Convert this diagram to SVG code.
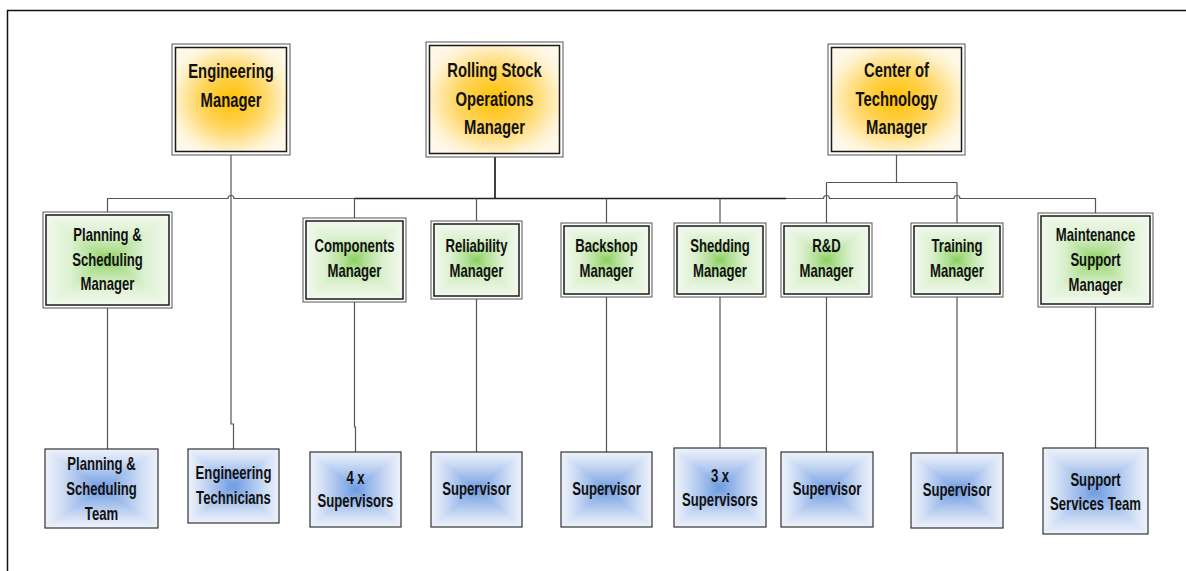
<svg xmlns="http://www.w3.org/2000/svg" xmlns:xlink="http://www.w3.org/1999/xlink" width="1186" height="571" viewBox="0 0 1186 571">
<style>
.t{font-family:"Liberation Sans",Arial,sans-serif;font-weight:bold;text-anchor:middle;fill:#111}
.t18{font-size:19.5px}
.t16{font-size:17.5px}
.outer{fill:#fff;stroke:#555;stroke-width:1}
.inner{fill:none;stroke:#1a1a1a;stroke-width:1.5}
.single{fill:none;stroke:#333;stroke-width:1.2}
.ln{fill:none;stroke:#555;stroke-width:1.2}
.lnb{fill:none;stroke:#222;stroke-width:1.7}
.frame{fill:none;stroke:#111;stroke-width:1.5}
</style>
<defs>
<radialGradient id="gO" cx="0.5" cy="0.5" r="0.6">
<stop offset="0" stop-color="#FFC000"/>
<stop offset="0.45" stop-color="#FFD45A"/>
<stop offset="0.85" stop-color="#FFF3D2"/>
<stop offset="1" stop-color="#FFF8E8"/>
</radialGradient>
<linearGradient id="gGT" x1="0" y1="0" x2="0" y2="1"><stop offset="0" stop-color="#F2F9EE"/><stop offset="0.4" stop-color="#DDF1D1"/><stop offset="0.8" stop-color="#AEDE90"/><stop offset="1" stop-color="#8ACF5E"/></linearGradient>
<linearGradient id="gGB" x1="0" y1="1" x2="0" y2="0"><stop offset="0" stop-color="#F2F9EE"/><stop offset="0.4" stop-color="#DDF1D1"/><stop offset="0.8" stop-color="#AEDE90"/><stop offset="1" stop-color="#8ACF5E"/></linearGradient>
<linearGradient id="gGL" x1="0" y1="0" x2="1" y2="0"><stop offset="0" stop-color="#F2F9EE"/><stop offset="0.4" stop-color="#DDF1D1"/><stop offset="0.8" stop-color="#AEDE90"/><stop offset="1" stop-color="#8ACF5E"/></linearGradient>
<linearGradient id="gGR" x1="1" y1="0" x2="0" y2="0"><stop offset="0" stop-color="#F2F9EE"/><stop offset="0.4" stop-color="#DDF1D1"/><stop offset="0.8" stop-color="#AEDE90"/><stop offset="1" stop-color="#8ACF5E"/></linearGradient>
<linearGradient id="gBT" x1="0" y1="0" x2="0" y2="1"><stop offset="0" stop-color="#EEF3FB"/><stop offset="0.3" stop-color="#CFDDF4"/><stop offset="0.7" stop-color="#98B8EA"/><stop offset="1" stop-color="#6F9BE0"/></linearGradient>
<linearGradient id="gBB" x1="0" y1="1" x2="0" y2="0"><stop offset="0" stop-color="#EEF3FB"/><stop offset="0.3" stop-color="#CFDDF4"/><stop offset="0.7" stop-color="#98B8EA"/><stop offset="1" stop-color="#6F9BE0"/></linearGradient>
<linearGradient id="gBL" x1="0" y1="0" x2="1" y2="0"><stop offset="0" stop-color="#EEF3FB"/><stop offset="0.3" stop-color="#CFDDF4"/><stop offset="0.7" stop-color="#98B8EA"/><stop offset="1" stop-color="#6F9BE0"/></linearGradient>
<linearGradient id="gBR" x1="1" y1="0" x2="0" y2="0"><stop offset="0" stop-color="#EEF3FB"/><stop offset="0.3" stop-color="#CFDDF4"/><stop offset="0.7" stop-color="#98B8EA"/><stop offset="1" stop-color="#6F9BE0"/></linearGradient>
<symbol id="fillG" viewBox="0 0 100 100" preserveAspectRatio="none">
<polygon points="0,0 100,0 50,50" fill="url(#gGT)" shape-rendering="crispEdges"/>
<polygon points="0,100 100,100 50,50" fill="url(#gGB)" shape-rendering="crispEdges"/>
<polygon points="0,0 0,100 50,50" fill="url(#gGL)" shape-rendering="crispEdges"/>
<polygon points="100,0 100,100 50,50" fill="url(#gGR)" shape-rendering="crispEdges"/>
</symbol>
<symbol id="fillB" viewBox="0 0 100 100" preserveAspectRatio="none">
<polygon points="0,0 100,0 50,50" fill="url(#gBT)" shape-rendering="crispEdges"/>
<polygon points="0,100 100,100 50,50" fill="url(#gBB)" shape-rendering="crispEdges"/>
<polygon points="0,0 0,100 50,50" fill="url(#gBL)" shape-rendering="crispEdges"/>
<polygon points="100,0 100,100 50,50" fill="url(#gBR)" shape-rendering="crispEdges"/>
</symbol>
</defs>
<rect width="1186" height="571" fill="#fff"/>
<path class="frame" d="M7.5,571 V10.5 H1186"/>

<g id="connectors">
<path class="ln" d="M107.5,212 V198.5 H228 a3,3 0 0 1 6,0 H823.5 a3,3 0 0 1 6,0 H954 a3,3 0 0 1 6,0 H1095.5 V213"/>
<path class="lnb" d="M495,157 V198.5 M354.5,198.5 H786"/>
<path class="ln" d="M354.5,198.5 V218 M476.5,198.5 V221 M606.5,198.5 V223 M720,198.5 V223"/>
<path class="ln" d="M231,155 V424 H233.5 V449"/>
<path class="ln" d="M896.5,155 V182.5 M826.5,182.5 H957 M826.5,182.5 V223 M957,182.5 V223"/>
<path class="ln" d="M107.5,308 V449 M354.5,302 V427 H355.5 V452 M476.5,299 V452 M606.5,297 V452 M720,297 V448 M826.5,297 V452 M957,297 V453 M1095.5,307 V448"/>
</g>

<g id="engineering-manager">
<rect class="outer" x="172" y="44" width="118" height="111"/>
<rect x="175.5" y="47.5" width="111" height="104" fill="url(#gO)"/>
<rect class="inner" x="175.5" y="47.5" width="111" height="104"/>
<text class="t t18" x="0" y="78.5" transform="matrix(.76 0 0 1 231 0)">Engineering</text>
<text class="t t18" x="0" y="107" transform="matrix(.76 0 0 1 231 0)">Manager</text>
</g>
<g id="rolling-stock-operations-manager">
<rect class="outer" x="426" y="42" width="137" height="115"/>
<rect x="429.5" y="45.5" width="130" height="108" fill="url(#gO)"/>
<rect class="inner" x="429.5" y="45.5" width="130" height="108"/>
<text class="t t18" x="0" y="77.5" transform="matrix(.76 0 0 1 494.5 0)">Rolling Stock</text>
<text class="t t18" x="0" y="106" transform="matrix(.76 0 0 1 494.5 0)">Operations</text>
<text class="t t18" x="0" y="134.5" transform="matrix(.76 0 0 1 494.5 0)">Manager</text>
</g>
<g id="center-of-technology-manager">
<rect class="outer" x="828" y="44" width="137" height="111"/>
<rect x="831.5" y="47.5" width="130" height="104" fill="url(#gO)"/>
<rect class="inner" x="831.5" y="47.5" width="130" height="104"/>
<text class="t t18" x="0" y="77.5" transform="matrix(.76 0 0 1 896.5 0)">Center of</text>
<text class="t t18" x="0" y="106" transform="matrix(.76 0 0 1 896.5 0)">Technology</text>
<text class="t t18" x="0" y="134.5" transform="matrix(.76 0 0 1 896.5 0)">Manager</text>
</g>

<g id="planning-scheduling-manager">
<rect class="outer" x="43" y="212" width="129" height="96"/>
<use xlink:href="#fillG" x="46" y="215" width="123" height="90"/>
<rect class="inner" x="46" y="215" width="123" height="90"/>
<text class="t t16" x="0" y="241.5" transform="matrix(.75 0 0 1 107.5 0)">Planning &amp;</text>
<text class="t t16" x="0" y="266" transform="matrix(.75 0 0 1 107.5 0)">Scheduling</text>
<text class="t t16" x="0" y="290.5" transform="matrix(.75 0 0 1 107.5 0)">Manager</text>
</g>
<g id="components-manager">
<rect class="outer" x="303" y="218" width="103" height="84"/>
<use xlink:href="#fillG" x="306" y="221" width="97" height="78"/>
<rect class="inner" x="306" y="221" width="97" height="78"/>
<text class="t t16" x="0" y="252.5" transform="matrix(.75 0 0 1 354.5 0)">Components</text>
<text class="t t16" x="0" y="277.5" transform="matrix(.75 0 0 1 354.5 0)">Manager</text>
</g>
<g id="reliability-manager">
<rect class="outer" x="431" y="221" width="91" height="78"/>
<use xlink:href="#fillG" x="434" y="224" width="85" height="72"/>
<rect class="inner" x="434" y="224" width="85" height="72"/>
<text class="t t16" x="0" y="252.5" transform="matrix(.75 0 0 1 476.5 0)">Reliability</text>
<text class="t t16" x="0" y="277.5" transform="matrix(.75 0 0 1 476.5 0)">Manager</text>
</g>
<g id="backshop-manager">
<rect class="outer" x="561" y="223" width="91" height="74"/>
<use xlink:href="#fillG" x="564" y="226" width="85" height="68"/>
<rect class="inner" x="564" y="226" width="85" height="68"/>
<text class="t t16" x="0" y="252.5" transform="matrix(.75 0 0 1 606.5 0)">Backshop</text>
<text class="t t16" x="0" y="277.5" transform="matrix(.75 0 0 1 606.5 0)">Manager</text>
</g>
<g id="shedding-manager">
<rect class="outer" x="674" y="223" width="92" height="74"/>
<use xlink:href="#fillG" x="677" y="226" width="86" height="68"/>
<rect class="inner" x="677" y="226" width="86" height="68"/>
<text class="t t16" x="0" y="252.5" transform="matrix(.75 0 0 1 720 0)">Shedding</text>
<text class="t t16" x="0" y="277.5" transform="matrix(.75 0 0 1 720 0)">Manager</text>
</g>
<g id="rd-manager">
<rect class="outer" x="781" y="223" width="91" height="74"/>
<use xlink:href="#fillG" x="784" y="226" width="85" height="68"/>
<rect class="inner" x="784" y="226" width="85" height="68"/>
<text class="t t16" x="0" y="252.5" transform="matrix(.75 0 0 1 826.5 0)">R&amp;D</text>
<text class="t t16" x="0" y="277.5" transform="matrix(.75 0 0 1 826.5 0)">Manager</text>
</g>
<g id="training-manager">
<rect class="outer" x="911" y="223" width="92" height="74"/>
<use xlink:href="#fillG" x="914" y="226" width="86" height="68"/>
<rect class="inner" x="914" y="226" width="86" height="68"/>
<text class="t t16" x="0" y="252.5" transform="matrix(.75 0 0 1 957 0)">Training</text>
<text class="t t16" x="0" y="277.5" transform="matrix(.75 0 0 1 957 0)">Manager</text>
</g>
<g id="maintenance-support-manager">
<rect class="outer" x="1038" y="213" width="115" height="94"/>
<use xlink:href="#fillG" x="1041" y="216" width="109" height="88"/>
<rect class="inner" x="1041" y="216" width="109" height="88"/>
<text class="t t16" x="0" y="241" transform="matrix(.75 0 0 1 1095.5 0)">Maintenance</text>
<text class="t t16" x="0" y="266" transform="matrix(.75 0 0 1 1095.5 0)">Support</text>
<text class="t t16" x="0" y="291" transform="matrix(.75 0 0 1 1095.5 0)">Manager</text>
</g>

<g id="planning-scheduling-team">
<use xlink:href="#fillB" x="45" y="449" width="113" height="79"/>
<rect class="single" x="45" y="449" width="113" height="79"/>
<text class="t t16" x="0" y="470" transform="matrix(.75 0 0 1 101.5 0)">Planning &amp;</text>
<text class="t t16" x="0" y="495" transform="matrix(.75 0 0 1 101.5 0)">Scheduling</text>
<text class="t t16" x="0" y="520" transform="matrix(.75 0 0 1 101.5 0)">Team</text>
</g>
<g id="engineering-technicians">
<use xlink:href="#fillB" x="188" y="449" width="91" height="74"/>
<rect class="single" x="188" y="449" width="91" height="74"/>
<text class="t t16" x="0" y="479" transform="matrix(.75 0 0 1 233.5 0)">Engineering</text>
<text class="t t16" x="0" y="504" transform="matrix(.75 0 0 1 233.5 0)">Technicians</text>
</g>
<g id="components-supervisors">
<use xlink:href="#fillB" x="310" y="452" width="91" height="75"/>
<rect class="single" x="310" y="452" width="91" height="75"/>
<text class="t t16" x="0" y="484" transform="matrix(.75 0 0 1 355.5 0)">4 x</text>
<text class="t t16" x="0" y="507.5" transform="matrix(.75 0 0 1 355.5 0)">Supervisors</text>
</g>
<g id="reliability-supervisor">
<use xlink:href="#fillB" x="431" y="452" width="91" height="75"/>
<rect class="single" x="431" y="452" width="91" height="75"/>
<text class="t t16" x="0" y="495" transform="matrix(.75 0 0 1 476.5 0)">Supervisor</text>
</g>
<g id="backshop-supervisor">
<use xlink:href="#fillB" x="561" y="452" width="91" height="75"/>
<rect class="single" x="561" y="452" width="91" height="75"/>
<text class="t t16" x="0" y="495" transform="matrix(.75 0 0 1 606.5 0)">Supervisor</text>
</g>
<g id="shedding-supervisors">
<use xlink:href="#fillB" x="674" y="448" width="92" height="79"/>
<rect class="single" x="674" y="448" width="92" height="79"/>
<text class="t t16" x="0" y="482" transform="matrix(.75 0 0 1 720 0)">3 x</text>
<text class="t t16" x="0" y="506.5" transform="matrix(.75 0 0 1 720 0)">Supervisors</text>
</g>
<g id="rd-supervisor">
<use xlink:href="#fillB" x="781" y="452" width="92" height="75"/>
<rect class="single" x="781" y="452" width="92" height="75"/>
<text class="t t16" x="0" y="495" transform="matrix(.75 0 0 1 827 0)">Supervisor</text>
</g>
<g id="training-supervisor">
<use xlink:href="#fillB" x="911" y="453" width="92" height="75"/>
<rect class="single" x="911" y="453" width="92" height="75"/>
<text class="t t16" x="0" y="496.5" transform="matrix(.75 0 0 1 957 0)">Supervisor</text>
</g>
<g id="support-services-team">
<use xlink:href="#fillB" x="1043" y="448" width="105" height="86"/>
<rect class="single" x="1043" y="448" width="105" height="86"/>
<text class="t t16" x="0" y="486" transform="matrix(.75 0 0 1 1095.5 0)">Support</text>
<text class="t t16" x="0" y="510" transform="matrix(.75 0 0 1 1095.5 0)">Services Team</text>
</g>
</svg>
